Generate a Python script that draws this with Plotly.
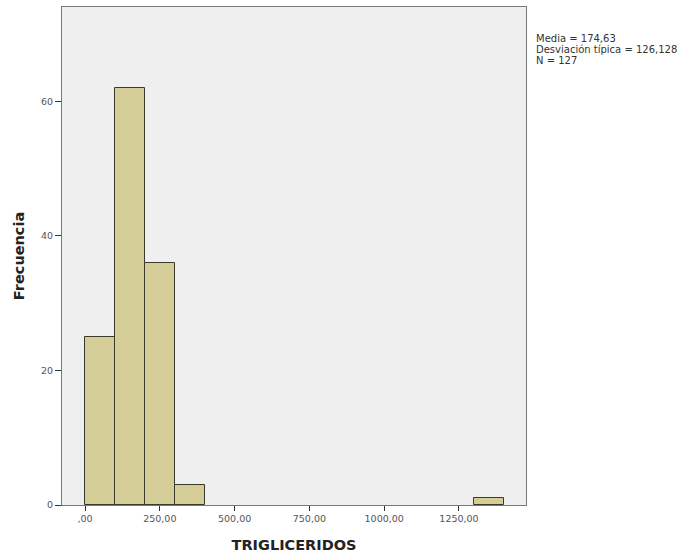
import plotly.graph_objects as go

# Histogram of triglyceride values (bins of width 100)
bin_starts = [0, 100, 200, 300, 1300]
bin_width = 100
counts = [25, 62, 36, 3, 1]

x_tick_vals = [0, 250, 500, 750, 1000, 1250]
x_tick_text = [",00", "250,00", "500,00", "750,00", "1000,00", "1250,00"]
y_tick_vals = [0, 20, 40, 60]

stats_lines = ["Media = 174,63", "Desviación típica = 126,128", "N = 127"]

centers = [s + bin_width / 2 for s in bin_starts]

FONT = "DejaVu Sans, Verdana, sans-serif"

fig = go.Figure()
fig.add_trace(go.Bar(
    x=centers,
    y=counts,
    width=[bin_width] * len(counts),
    marker=dict(color="#d4cd97", line=dict(color="#3a3a2a", width=1)),
    showlegend=False,
))

tick_font = dict(family=FONT, size=9.5, color="#555555")
title_font = dict(family=FONT, size=14.5, color="#222222")

# frame around the plotting area
frame = dict(showline=True, linecolor="#777777", linewidth=1, mirror=True,
             showgrid=False, zeroline=False)

fig.update_layout(
    width=690,
    height=558,
    margin=dict(l=62, r=164, t=7, b=53),
    paper_bgcolor="white",
    plot_bgcolor="#efefef",
    bargap=0,
    font=dict(family=FONT),
    xaxis=dict(
        range=[-77, 1474],
        tickvals=x_tick_vals,
        ticktext=x_tick_text,
        ticks="outside",
        ticklen=5,
        tickcolor="#333333",
        tickfont=tick_font,
        title=dict(text="<b>TRIGLICERIDOS</b>", font=title_font, standoff=16),
        **frame,
    ),
    yaxis=dict(
        range=[0, 74],
        tickvals=y_tick_vals,
        ticks="outside",
        ticklen=6,
        tickcolor="#333333",
        tickfont=tick_font,
        title=dict(text="<b>Frecuencia</b>", font=title_font, standoff=12),
        **frame,
    ),
)

# summary statistics, one line per annotation for tight spacing
for i, line in enumerate(stats_lines):
    fig.add_annotation(
        text=line,
        xref="paper", yref="paper",
        x=1.0, y=1.0,
        xanchor="left", yanchor="middle",
        xshift=8, yshift=-31 - 11 * i,
        showarrow=False,
        align="left",
        font=dict(family=FONT, size=10, color="#333333"),
    )

fig.write_html("out.html")
